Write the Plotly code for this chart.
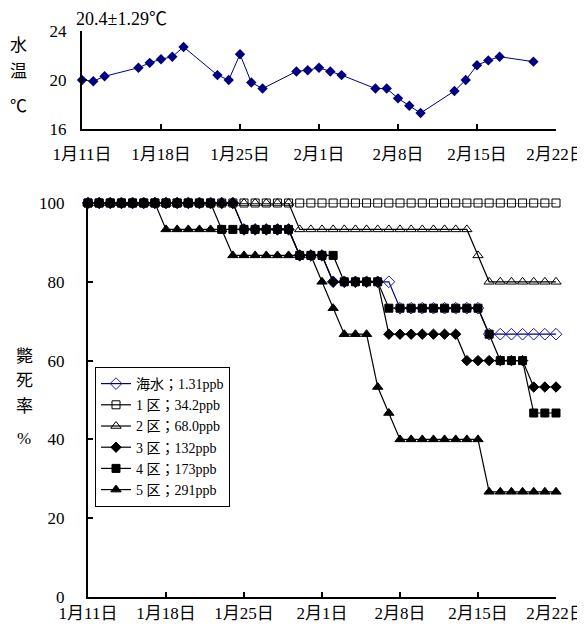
import plotly.graph_objects as go
import pandas as pd

# ---------------- data ----------------
YEAR = "2007"
tick_dates = ["01-11", "01-18", "01-25", "02-01", "02-08", "02-15", "02-22"]
tick_labels = ["1月11日", "1月18日", "1月25日", "2月1日", "2月8日", "2月15日", "2月22日"]

temp_dates = ["01-11", "01-12", "01-13", "01-16", "01-17", "01-18", "01-19", "01-20",
              "01-23", "01-24", "01-25", "01-26", "01-27", "01-30", "01-31", "02-01",
              "02-02", "02-03", "02-06", "02-07", "02-08", "02-09", "02-10", "02-13",
              "02-14", "02-15", "02-16", "02-17", "02-20"]
temp_values = [20.0, 19.9, 20.3, 21.0, 21.4, 21.7, 21.9, 22.7,
               20.4, 20.0, 22.1, 19.8, 19.3, 20.7, 20.8, 21.0,
               20.7, 20.4, 19.3, 19.3, 18.5, 17.9, 17.3, 19.1,
               20.0, 21.2, 21.6, 21.9, 21.5]

mort_start, mort_end = "01-11", "02-22"

seawater = [100, 100, 100, 100, 100, 100, 100, 100, 100, 100, 100, 100, 100, 100,
            93.3, 93.3, 93.3, 93.3, 93.3, 86.7, 86.7, 86.7,
            80, 80, 80, 80, 80, 80,
            73.3, 73.3, 73.3, 73.3, 73.3, 73.3, 73.3, 73.3,
            66.7, 66.7, 66.7, 66.7, 66.7, 66.7, 66.7]
zone1 = [100] * 43
zone2 = [100, 100, 100, 100, 100, 100, 100, 100, 100, 100, 100, 100, 100, 100, 100, 100, 100, 100, 100,
         93.3, 93.3, 93.3, 93.3, 93.3, 93.3, 93.3, 93.3, 93.3, 93.3, 93.3, 93.3, 93.3, 93.3, 93.3, 93.3,
         86.7,
         80, 80, 80, 80, 80, 80, 80]
zone3 = [100, 100, 100, 100, 100, 100, 100, 100, 100, 100, 100, 100, 100, 100,
         93.3, 93.3, 93.3, 93.3, 93.3, 86.7, 86.7, 86.7,
         80, 80, 80, 80, 80,
         66.7, 66.7, 66.7, 66.7, 66.7, 66.7, 66.7,
         60, 60, 60, 60, 60, 60,
         53.3, 53.3, 53.3]
zone4 = [100, 100, 100, 100, 100, 100, 100, 100, 100, 100, 100, 100,
         93.3, 93.3, 93.3, 93.3, 93.3, 93.3, 93.3,
         86.7, 86.7, 86.7, 86.7,
         80, 80, 80, 80,
         73.3, 73.3, 73.3, 73.3, 73.3, 73.3, 73.3, 73.3, 73.3,
         66.7,
         60, 60, 60,
         46.7, 46.7, 46.7]
zone5 = [100, 100, 100, 100, 100, 100, 100,
         93.3, 93.3, 93.3, 93.3, 93.3, 93.3,
         86.7, 86.7, 86.7, 86.7, 86.7, 86.7, 86.7, 86.7,
         80, 73.3, 66.7, 66.7, 66.7, 53.3, 46.7,
         40, 40, 40, 40, 40, 40, 40, 40,
         26.7, 26.7, 26.7, 26.7, 26.7, 26.7, 26.7]

series_names = ["海水；1.31ppb", "1 区；34.2ppb", "2 区；68.0ppb",
                "3 区；132ppb", "4 区；173ppb", "5 区；291ppb"]

# ---------------- figure ----------------
# page body has an 8px margin: work in reference pixels and subtract it
OFF = 8
W, H = 585 - OFF, 627 - OFF
FONT = "Liberation Serif, Noto Sans CJK JP, serif"

def d(s):
    return f"{YEAR}-{s}"

tvals = [d(s) for s in tick_dates]
mort_dates = pd.date_range(d(mort_start), d(mort_end), freq="D")

fig = go.Figure()

fig.add_trace(go.Scatter(
    x=[d(s) for s in temp_dates], y=temp_values, mode="lines+markers",
    line=dict(color="#000080", width=1),
    marker=dict(symbol="diamond", size=8, color="#000080"),
    xaxis="x", yaxis="y", showlegend=False, cliponaxis=False))

styles = {
    0: dict(data=seawater, sym="diamond-open", size=9, color="#1a1aa6", lc="#000080"),
    1: dict(data=zone1, sym="square-open", size=8, color="black", lc="black"),
    2: dict(data=zone2, sym="triangle-up-open", size=9, color="black", lc="black"),
    3: dict(data=zone3, sym="diamond", size=8, color="black", lc="black"),
    4: dict(data=zone4, sym="square", size=8, color="black", lc="black"),
    5: dict(data=zone5, sym="triangle-up", size=9, color="black", lc="black"),
}
draw_order = [0, 5, 2, 1, 3, 4]
for i in draw_order:
    s = styles[i]
    fig.add_trace(go.Scatter(
        x=mort_dates, y=s["data"], mode="lines+markers", name=series_names[i],
        line=dict(color=s["lc"], width=1.2),
        marker=dict(symbol=s["sym"], size=s["size"], color=s["color"],
                    line=dict(width=1, color=s["color"])),
        xaxis="x2", yaxis="y2", legendrank=i + 1, cliponaxis=False))

def px_x(p):
    return (p - OFF) / W

def px_y(p):
    return 1 - (p - OFF) / H

axis_common = dict(showline=True, linewidth=2, linecolor="black", showgrid=False,
                   zeroline=False, ticks="inside", ticklen=5, tickwidth=2,
                   tickcolor="black", tickfont=dict(family=FONT, size=17, color="black"),
                   automargin=False, ticklabeloverflow="allow")

fig.update_layout(
    width=W, height=H, margin=dict(l=0, r=0, t=0, b=0),
    paper_bgcolor="white", plot_bgcolor="white",
    font=dict(family=FONT, size=17, color="black"),
    xaxis=dict(domain=[px_x(82), px_x(556)], anchor="y", type="date",
               range=[d("01-11"), d("02-22")], tickvals=tvals, ticktext=tick_labels,
               ticklabelstandoff=9, **axis_common),
    yaxis=dict(domain=[px_y(129), px_y(31)], anchor="x", range=[16, 24],
               tickvals=[16, 20, 24], ticklabelstandoff=10, **axis_common),
    xaxis2=dict(domain=[px_x(88), px_x(556)], anchor="y2", type="date",
                range=[d("01-11"), d("02-22")], tickvals=tvals, ticktext=tick_labels,
                ticklabelstandoff=0, **axis_common),
    yaxis2=dict(domain=[px_y(597), px_y(203)], anchor="x2", range=[0, 100],
                tickvals=[0, 20, 40, 60, 80, 100], ticklabelstandoff=18, **axis_common),
    legend=dict(x=px_x(95), y=px_y(367), xanchor="left", yanchor="top",
                bgcolor="white", bordercolor="black", borderwidth=1,
                font=dict(family=FONT, size=14, color="black"),
                tracegroupgap=0, itemwidth=30),
)

ann = [
    ("20.4±1.29℃", 74, 19, "left", 18),
    ("水", 18, 46, "center", 17),
    ("温", 18, 71, "center", 17),
    ("℃", 18, 106, "center", 17),
    ("斃", 24, 356, "center", 17),
    ("死", 24, 381, "center", 17),
    ("率", 24, 406, "center", 17),
    ("%", 24, 438, "center", 17),
]
for text, x, y, al, fs in ann:
    fig.add_annotation(text=text, x=px_x(x), y=px_y(y), xref="paper", yref="paper",
                       xanchor=al, yanchor="middle", showarrow=False,
                       font=dict(family=FONT, size=fs, color="black"))

fig.write_html("out.html")
